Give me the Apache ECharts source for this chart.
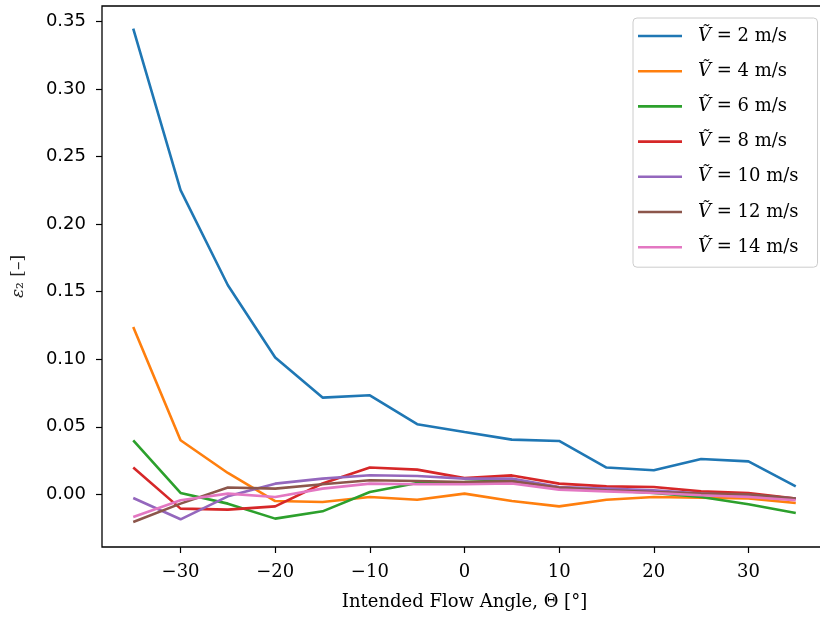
<!DOCTYPE html>
<html>
<head>
<meta charset="utf-8">
<script src="https://cdn.jsdelivr.net/npm/echarts@6/dist/echarts.min.js"></script>
<style>
  html, body { margin: 0; padding: 0; background: #fff; }
  #chart { width: 820px; height: 617px; }
</style>
</head>
<body>
<div id="chart"></div>
<script>
// intended flow angles, deg
const angles = [-35, -30, -25, -20, -15, -10, -5, 0, 5, 10, 15, 20, 25, 30, 35]
const speeds = [2, 4, 6, 8, 10, 12, 14]
const colors = ['#1f77b4', '#ff7f0e', '#2ca02c', '#d62728', '#9467bd', '#8c564b', '#e377c2']

// eps2 per speed
const v2 = [0.3448, 0.2252, 0.1548, 0.1013, 0.0716, 0.0733, 0.0519, 0.0461, 0.0405, 0.0395, 0.0198, 0.0178, 0.0261, 0.0244, 0.0059]
const v4 = [0.1239, 0.0400, 0.0158, -0.0050, -0.0057, -0.0020, -0.0040, 0.0005, -0.0050, -0.0089, -0.0040, -0.0020, -0.0025, -0.0030, -0.0064]
const v6 = [0.0400, 0.0010, -0.0069, -0.0180, -0.0126, 0.0017, 0.0084, 0.0091, 0.0104, 0.0050, 0.0030, 0.0010, -0.0020, -0.0074, -0.0138]
const v8 = [0.0198, -0.0106, -0.0113, -0.0089, 0.0080, 0.0198, 0.0183, 0.0120, 0.0140, 0.0079, 0.0059, 0.0054, 0.0022, 0.0010, -0.0032]
const v10 = [-0.0027, -0.0185, -0.0015, 0.0079, 0.0116, 0.0141, 0.0136, 0.0116, 0.0116, 0.0054, 0.0042, 0.0030, 0.0005, -0.0007, -0.0032]
const v12 = [-0.0205, -0.0069, 0.0050, 0.0042, 0.0074, 0.0104, 0.0099, 0.0091, 0.0096, 0.0050, 0.0030, 0.0017, 0.0005, 0.0000, -0.0032]
const v14 = [-0.0168, -0.0044, 0.0005, -0.0020, 0.0042, 0.0079, 0.0074, 0.0074, 0.0080, 0.0035, 0.0022, 0.0010, -0.0007, -0.0020, -0.0044]
const values = [v2, v4, v6, v8, v10, v12, v14]

const xTicks = [-30, -20, -10, 0, 10, 20, 30]
const yTicks = [0, 0.05, 0.1, 0.15, 0.2, 0.25, 0.3, 0.35]

const serif = 'DejaVu Serif'
const sans = 'DejaVu Sans'

let chart = echarts.init(document.getElementById('chart'))

let series = speeds.map(function (s, i) {
  return {
    name: 'V\u0303 = ' + s + ' m/s',
    type: 'line',
    data: angles.map(function (a, j) { return [a, values[i][j]] }),
    showSymbol: false,
    color: colors[i],
    lineStyle: { width: 2.6, color: colors[i] },
    animation: false
  }
})

let option = {
  animation: false,
  grid: {
    left: 102,
    top: 6,
    right: -7,
    bottom: 70,
    outerBoundsMode: 'none',
    show: true,
    borderColor: '#000',
    borderWidth: 1.3,
    backgroundColor: 'transparent'
  },
  xAxis: {
    type: 'value',
    min: -38.3,
    max: 38.3,
    axisLine: { show: false, onZero: false },
    splitLine: { show: false },
    axisTick: {
      show: true, length: 6, customValues: xTicks,
      lineStyle: { color: '#000', width: 1.2 }
    },
    axisLabel: {
      customValues: xTicks,
      margin: 16,
      fontFamily: serif,
      fontSize: 18,
      color: '#000',
      formatter: function (v) { return v < 0 ? '\u2212' + Math.abs(v) : String(v) }
    },
    name: 'Intended Flow Angle, \u0398 [\u00b0]',
    nameLocation: 'middle',
    nameGap: 46,
    nameTextStyle: { fontFamily: serif, fontSize: 18, color: '#000' }
  },
  yAxis: {
    type: 'value',
    min: -0.039,
    max: 0.3615,
    axisLine: { show: false, onZero: false },
    splitLine: { show: false },
    axisTick: {
      show: true, length: 6, customValues: yTicks,
      lineStyle: { color: '#000', width: 1.2 }
    },
    axisLabel: {
      customValues: yTicks,
      margin: 16,
      fontFamily: sans,
      fontSize: 18,
      color: '#000',
      formatter: function (v) { return v.toFixed(2) }
    },
    name: '{e|\u03b5}\u2082 [\u2013]',
    nameLocation: 'middle',
    nameRotate: 90,
    nameGap: 75,
    nameTextStyle: {
      fontFamily: serif, fontSize: 17, color: '#222',
      rich: { e: { fontFamily: serif, fontSize: 17, fontStyle: 'italic', color: '#222' } }
    }
  },
  legend: {
    orient: 'vertical',
    left: 633,
    top: 18,
    padding: [7, 19, 9, 5],
    itemGap: 13.2,
    itemWidth: 44,
    itemHeight: 2.6,
    icon: 'rect',
    backgroundColor: 'rgba(255,255,255,0.8)',
    borderColor: '#cccccc',
    borderWidth: 1,
    borderRadius: 4,
    formatter: function (name) { return name.replace('V\u0303', '{i|V\u0303}') },
    textStyle: {
      fontFamily: serif,
      fontSize: 18,
      lineHeight: 22,
      color: '#000',
      padding: [0, 0, 0, 11],
      rich: { i: { fontFamily: serif, fontStyle: 'italic', fontSize: 18, lineHeight: 22, color: '#000' } }
    }
  },
  series: series
}

chart.setOption(option)
</script>
</body>
</html>
